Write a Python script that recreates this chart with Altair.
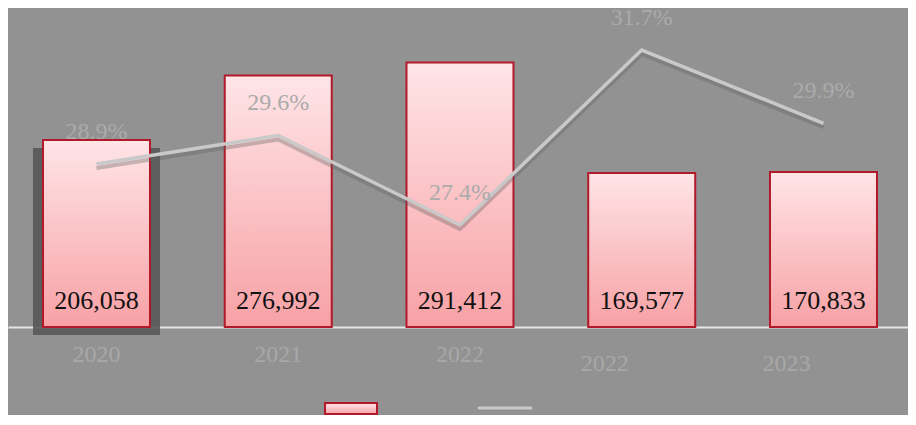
import altair as alt
import pandas as pd

# ---- data ----
years = ["2020", "2021", "2022", "2022", "2023"]
counts = [206058, 276992, 291412, 169577, 170833]
shares = [28.9, 29.6, 27.4, 31.7, 29.9]

df = pd.DataFrame({
    "idx": list(range(len(years))),
    "year": years,
    "count": counts,
    "share": shares,
})
df["count_label"] = df["count"].map(lambda v: f"{v:,}")
df["share_label"] = df["share"].map(lambda v: f"{v:.1f}%")

FONT = "Liberation Serif"
BG = "#929292"
BAR_STROKE = "#b01a2a"
LINE_COLOR = "#c9c9c9"

bar_fill = alt.Gradient(
    gradient="linear",
    stops=[alt.GradientStop(color="#ffe5e7", offset=0),
           alt.GradientStop(color="#f7a1a5", offset=1)],
    x1=0, x2=0, y1=0, y2=1,
)

label_expr = "[" + ",".join(f"'{y}'" for y in years) + "][datum.value]"

x_enc = alt.X(
    "idx:O",
    scale=alt.Scale(paddingInner=0.4113, paddingOuter=0.1816, align=0.53),
    axis=alt.Axis(
        title=None,
        labelExpr=label_expr,
        labelAngle=0,
        ticks=False,
        domainColor="#e6e6e6",
        domainWidth=2,
        labelColor="#a8a8a8",
        labelFont=FONT,
        labelFontSize=24,
        labelPadding={"condition": {"test": "datum.value >= 3", "value": 24}, "value": 15},
        labelOffset={"condition": {"test": "datum.value >= 3", "value": -37}, "value": 0},
    ),
)

y_bar = alt.Y("count:Q", scale=alt.Scale(domain=[0, 351500], nice=False, zero=True), axis=None)
y_line = alt.Y("share:Q", scale=alt.Scale(domain=[24.894, 32.732], nice=False, zero=False), axis=None)

base = alt.Chart(df)

shadow = base.transform_filter("datum.idx == 0").mark_bar(
    size=127, color="#585858", opacity=0.9, yOffset=8, y2Offset=2
).encode(x=x_enc, y=y_bar)

bars = base.mark_bar(fill=bar_fill, stroke=BAR_STROKE, strokeWidth=2).encode(x=x_enc, y=y_bar)

bar_text = base.mark_text(
    font=FONT, fontSize=26, color="#111111", baseline="alphabetic", dy=-18
).encode(x=x_enc, y=alt.datum(0), text="count_label:N")

bar_group = alt.layer(shadow, bars, bar_text)

line_shadow = base.mark_line(color="#5e5e5e", strokeWidth=4, opacity=0.35, yOffset=4).encode(x=x_enc, y=y_line)
line = base.mark_line(color=LINE_COLOR, strokeWidth=3.5).encode(x=x_enc, y=y_line)
line_text = base.mark_text(
    font=FONT, fontSize=24, color="#ababab", baseline="alphabetic", dy=-25
).encode(x=x_enc, y=y_line, text="share_label:N")

line_group = alt.layer(line_shadow, line, line_text)

one = pd.DataFrame({"k": [0]})
legend_rect = alt.Chart(one).mark_rect(fill=bar_fill, stroke=BAR_STROKE, strokeWidth=2).encode(
    x=alt.value(317), x2=alt.value(369), y=alt.value(395), y2=alt.value(406)
)
legend_line = alt.Chart(one).mark_rule(color=LINE_COLOR, strokeWidth=3, strokeCap="round").encode(
    x=alt.value(471), x2=alt.value(523), y=alt.value(400)
)

chart = alt.layer(bar_group, line_group, legend_rect, legend_line).resolve_scale(
    y="independent"
).properties(
    width=900,
    height=319,
    background=BG,
    padding={"left": 0, "top": 0, "right": 0, "bottom": 88},
    autosize=alt.AutoSizeParams(type="none"),
).configure_view(stroke=None)

chart.save("out.html", embed_options={"renderer": "svg", "actions": False})
